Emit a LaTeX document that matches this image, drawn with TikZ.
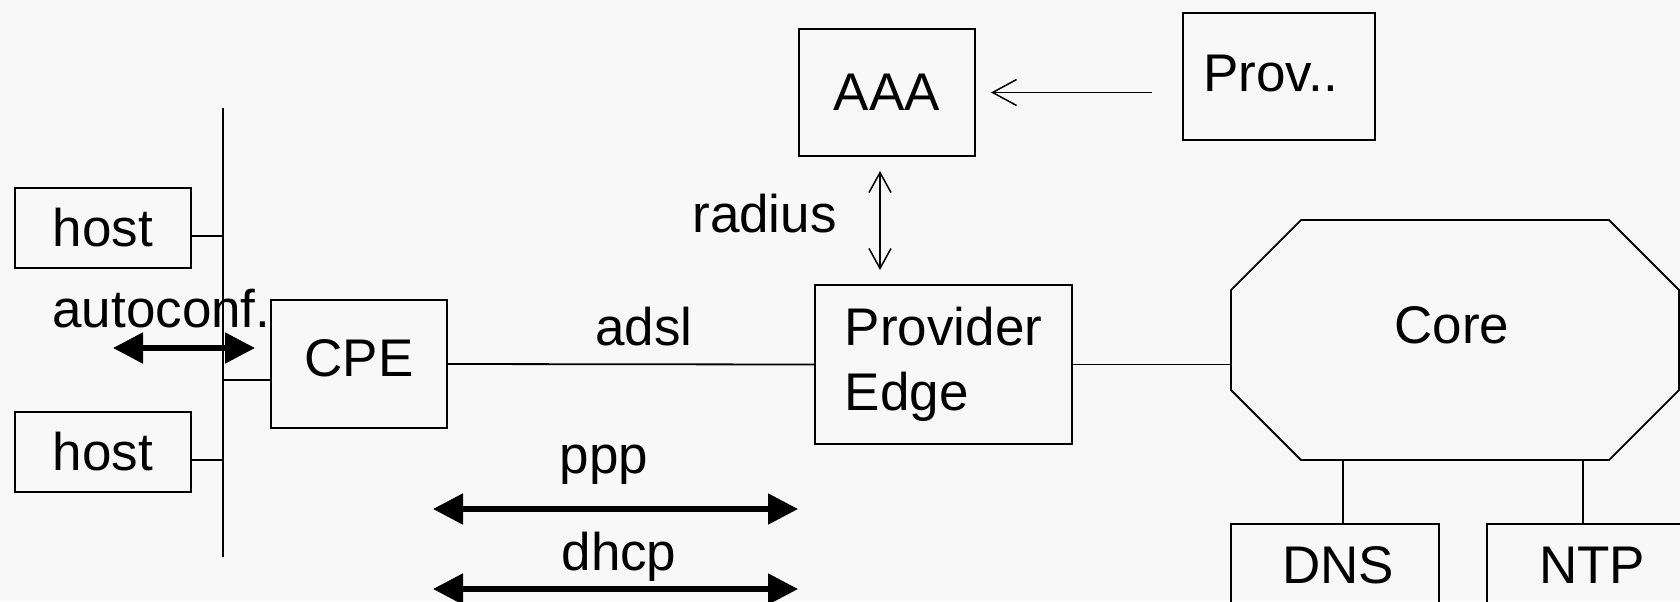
\documentclass[tikz,border=0pt]{standalone}
\usepackage{fontspec}
\setmainfont{Liberation Sans}
\usetikzlibrary{arrows.meta}

\definecolor{paper}{RGB}{248,248,248}
\newcommand\diagfont{\fontsize{26.5}{32.5}\selectfont}
\def\chamfer{35pt}
\def\tipbig{Triangle[length=15pt,width=15pt]}

\begin{document}
\begin{tikzpicture}[
        x=0.5pt,y=-0.5pt,
        every node/.style={font=\diagfont},
        box/.style={draw,line width=0.9pt,inner sep=0pt,outer sep=0pt},
        txt/.style={anchor=base,inner sep=0pt},
        wire/.style={line width=0.9pt},
        flow/.style={line width=2.6pt,{\tipbig}-{\tipbig}},
        thinflow/.style={line width=0.75pt},
    ]
    \path[fill=paper,use as bounding box] (0,0) rectangle (1680,601);
    \clip (0,0) rectangle (1680,601);

    % home side
    \coordinate (bustop) at (223,108);
    \coordinate (busbot) at (223,557);
    \node[box,minimum width=88pt,minimum height=40pt] (host1) at (103,228) {host};
    \node[box,minimum width=88pt,minimum height=40pt] (host2) at (103,452) {host};
    \node[box,minimum width=88pt,minimum height=64pt] (cpe) at (359,364) {};

    % provider side
    \node[box,minimum width=88pt,minimum height=63.5pt] (aaa) at (887,92.5) {AAA};
    \node[box,minimum width=96pt,minimum height=63.5pt] (prov) at (1279,76.5) {};
    \node[box,minimum width=128.5pt,minimum height=79.5pt,align=left] (pe) at (943.5,364.5) {Provider\\Edge};
    \node[outer sep=0pt,minimum width=224pt,minimum height=120pt] (core) at (1455,340) {};
    \node[box,minimum width=104pt,minimum height=65pt] (dns) at (1335,589) {};
    \node[box,minimum width=104pt,minimum height=65pt] (ntp) at (1591,589) {};

    % octagon round the core
    \draw[wire] ([xshift=\chamfer]core.north west) -- ([xshift=-\chamfer]core.north east)
        -- ([yshift=-\chamfer]core.north east) -- ([yshift=\chamfer]core.south east)
        -- ([xshift=-\chamfer]core.south east) -- ([xshift=\chamfer]core.south west)
        -- ([yshift=\chamfer]core.south west) -- ([yshift=-\chamfer]core.north west) -- cycle;

    % texts
    \node[txt] (cpetxt) at (359,376) {CPE};
    \node[txt,anchor=base west] (provtxt) at (1203,91) {Prov..};
    \node[txt] (coretxt) at (1452,343) {Core};
    \node[txt] (dnstxt) at (1338,583) {DNS};
    \node[txt] (ntptxt) at (1592,583) {NTP};
    \node[txt,anchor=base west] (autoconf) at (52,327) {autoconf.};
    \node[txt,anchor=base west] (adsl) at (595,345) {adsl};
    \node[txt,anchor=base west] (radius) at (692,232) {radius};
    \node[txt] (ppp) at (604,473) {ppp};
    \node[txt] (dhcp) at (619,570) {dhcp};

    % wiring
    \draw[wire] (bustop) -- (busbot);
    \draw[wire] ([yshift=-4pt]host1.east) -- ([yshift=-4pt]host1.east -| bustop);
    \draw[wire] ([yshift=-4pt]host2.east) -- ([yshift=-4pt]host2.east -| bustop);
    \draw[wire] ([yshift=-8pt]cpe.west) -- ([yshift=-8pt]cpe.west -| bustop);
    \draw[wire] (cpe.east) -- (pe.west);
    \draw[wire] (pe.east) -- (pe.east -| core.west);
    \draw[wire] ([xshift=4pt]dns.north) -- ([xshift=4pt]dns.north |- core.south);
    \draw[wire] ([xshift=-4pt]ntp.north) -- ([xshift=-4pt]ntp.north |- core.south);

    % protocol arrows
    \coordinate (acleft) at (113,348);
    \coordinate (acright) at (255,348);
    \coordinate (pppleft) at (433,509);
    \coordinate (pppright) at (798,509);
    \coordinate (dhcpleft) at (433,589);
    \coordinate (dhcpright) at (798,589);
    \draw[flow] (acleft) -- (acright);
    \draw[flow] (pppleft) -- (pppright);
    \draw[flow] (dhcpleft) -- (dhcpright);

    \draw[thinflow,{Straight Barb[length=12pt,width=13pt]}-,shorten <=8pt,shorten >=15.5pt]
        (aaa.east) -- (aaa.east -| prov.west);
    \draw[thinflow,{Straight Barb[length=10pt,width=11pt]}-{Straight Barb[length=10pt,width=11pt]},shorten <=7.5pt,shorten >=7.5pt]
        ([xshift=-3.5pt]aaa.south) -- ([xshift=-3.5pt]aaa.south |- pe.north);
\end{tikzpicture}
\end{document}
